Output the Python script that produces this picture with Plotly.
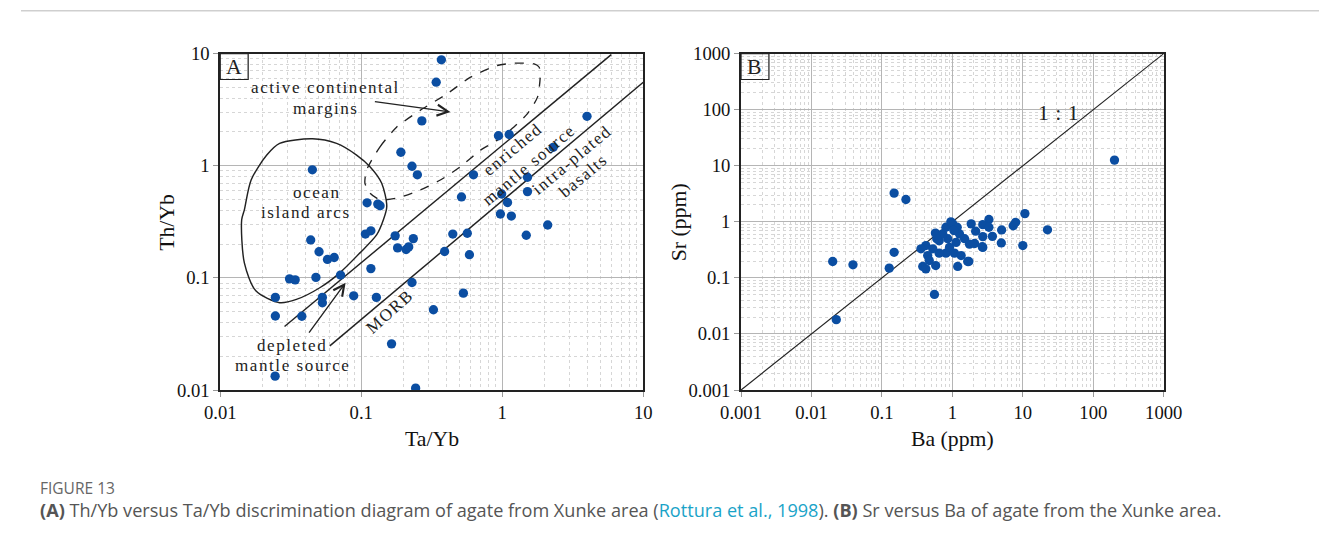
import plotly.graph_objects as go

# ---------------- Panel A data: Th/Yb vs Ta/Yb ----------------
ta_yb = [0.37, 0.34, 0.269, 0.191, 0.229, 0.25, 0.045, 0.625, 0.514, 0.110,
         0.131, 0.136, 0.107, 0.117, 0.174, 0.234, 0.446, 0.565, 0.0438, 3.99,
         0.94, 1.12, 2.30, 1.51, 1.51, 0.99, 1.09, 0.97, 1.16, 2.1,
         1.48, 0.181, 0.208, 0.217, 0.0502, 0.0576, 0.0643, 0.0713, 0.031, 0.034,
         0.0477, 0.117, 0.0246, 0.0246, 0.053, 0.053, 0.0379, 0.0884, 0.128, 0.229,
         0.39, 0.585, 0.53, 0.325, 0.164, 0.0245, 0.243]
th_yb = [8.8, 5.56, 2.51, 1.32, 0.99, 0.83, 0.92, 0.83, 0.527, 0.467,
         0.455, 0.44, 0.246, 0.263, 0.237, 0.224, 0.246, 0.25, 0.218, 2.76,
         1.85, 1.9, 1.46, 0.79, 0.588, 0.56, 0.47, 0.371, 0.356, 0.296,
         0.24, 0.185, 0.179, 0.189, 0.171, 0.146, 0.152, 0.106, 0.098, 0.096,
         0.101, 0.121, 0.067, 0.0457, 0.067, 0.060, 0.0455, 0.0692, 0.067, 0.091,
         0.172, 0.161, 0.0731, 0.052, 0.0258, 0.0133, 0.0104]

# field boundaries (log10 units)
oia_lx = [-1.346, -1.175, -1.033, -0.938, -0.855, -0.819, -0.843, -0.890, -1.009, -1.152,
          -1.294, -1.460, -1.579, -1.746, -1.829, -1.848, -1.829, -1.781, -1.670, -1.579, -1.346]
oia_ly = [0.240, 0.199, 0.095, -0.009, -0.156, -0.364, -0.482, -0.615, -0.777, -0.955,
          -1.088, -1.192, -1.221, -1.118, -0.866, -0.482, -0.393, -0.127, 0.095, 0.199, 0.240]
acm_lx = [-0.962, -0.867, -0.748, -0.582, -0.391, -0.225, -0.035, 0.083, 0.226, 0.262,
          0.269, 0.250, 0.179, 0.083, -0.035, -0.154, -0.297, -0.439, -0.582, -0.748,
          -0.867, -0.938, -0.974, -0.962]
acm_ly = [-0.038, 0.169, 0.346, 0.494, 0.642, 0.790, 0.894, 0.914, 0.909, 0.878,
          0.790, 0.612, 0.465, 0.346, 0.228, 0.139, -0.009, -0.127, -0.216, -0.289,
          -0.304, -0.245, -0.156, -0.038]
upper_lx = [-1.544, 0.773]
upper_ly = [-1.434, 0.991]
lower_lx = [-1.223, 1.0]
lower_ly = [-1.606, 0.745]

# ---------------- Panel B data: Sr vs Ba ----------------
ba = [0.020, 0.0388, 0.0225, 0.127, 0.149, 0.149, 0.219, 200, 10.7, 22.4,
      10.0, 0.556, 7.3, 7.9, 5.0, 4.95, 3.3, 2.7, 3.3, 1.85,
      2.14, 3.7, 2.7, 2.7, 2.07, 1.65, 1.19, 0.38, 0.42, 0.58,
      1.01, 1.17, 0.81, 0.574, 0.65, 0.86, 1.26, 1.49, 1.75, 2.66,
      0.42, 0.358, 0.446, 0.81, 1.07, 1.33, 1.71, 0.65, 0.91, 0.526,
      0.47, 0.73, 1.13, 0.95, 1.05, 0.6]
sr = [0.196, 0.171, 0.018, 0.149, 0.286, 3.25, 2.5, 12.6, 1.4, 0.72,
      0.377, 0.0507, 0.85, 0.98, 0.716, 0.42, 1.1, 0.89, 0.80, 0.92,
      0.68, 0.55, 0.545, 0.35, 0.41, 0.196, 0.16, 0.16, 0.145, 0.166,
      0.92, 0.80, 0.80, 0.63, 0.46, 0.50, 0.61, 0.50, 0.40, 0.36,
      0.377, 0.33, 0.25, 0.276, 0.276, 0.25, 0.196, 0.276, 0.35, 0.33,
      0.204, 0.61, 0.43, 1.0, 0.70, 0.5]
one_to_one = [0.001, 1000]

tick_a = [0.01, 0.1, 1, 10]
tick_a_lbl = ["0.01", "0.1", "1", "10"]
tick_b = [0.001, 0.01, 0.1, 1, 10, 100, 1000]
tick_b_lbl = ["0.001", "0.01", "0.1", "1", "10", "100", "1000"]

# observed page-to-photo mapping: photo = S * figure_px + B
S = 0.9656
BX, BY = 22.7, 9.2
K = 1 / S
W, H = 1343, 540
def PX(p):
    return ((p - BX) / S) / W
def PY(p):
    return 1 - ((p - BY) / S) / H

DOT = "#0b4ea2"
SERIF = "Liberation Serif"

def minor_vals(lo, hi):
    return [m * 10.0 ** k for k in range(lo, hi) for m in range(2, 10)]

fig = go.Figure()
fig.add_trace(go.Scatter(x=[10 ** v for v in oia_lx], y=[10 ** v for v in oia_ly], mode="lines",
                         line=dict(color="#222", width=1.4 * K, shape="spline", smoothing=0.8),
                         xaxis="x", yaxis="y", hoverinfo="skip"))
fig.add_trace(go.Scatter(x=[10 ** v for v in acm_lx], y=[10 ** v for v in acm_ly], mode="lines",
                         line=dict(color="#222", width=1.3 * K, dash="dash", shape="spline", smoothing=0.6),
                         xaxis="x", yaxis="y", hoverinfo="skip"))
for lx, ly in ((upper_lx, upper_ly), (lower_lx, lower_ly)):
    fig.add_trace(go.Scatter(x=[10 ** v for v in lx], y=[10 ** v for v in ly], mode="lines",
                             line=dict(color="#222", width=1.4 * K), xaxis="x", yaxis="y"))
fig.add_trace(go.Scatter(x=ta_yb, y=th_yb, mode="markers",
                         marker=dict(color=DOT, size=9 * K), xaxis="x", yaxis="y"))
fig.add_trace(go.Scatter(x=one_to_one, y=one_to_one, mode="lines",
                         line=dict(color="#222", width=1.1 * K), xaxis="x2", yaxis="y2"))
fig.add_trace(go.Scatter(x=ba, y=sr, mode="markers",
                         marker=dict(color=DOT, size=9 * K), xaxis="x2", yaxis="y2"))

ydom = [PY(391), PY(53)]
common = dict(type="log", showline=True, linecolor="#222", linewidth=1.5 * K, mirror=True,
              showgrid=True, gridcolor="#b5b5b5", gridwidth=1,
              ticks="outside", ticklen=5 * K, tickcolor="#999",
              tickfont=dict(family=SERIF, size=18 * K, color="#111"), zeroline=False)
def minor(lo, hi):
    return dict(tickvals=minor_vals(lo, hi), showgrid=True, gridcolor="#d6d6d6",
                griddash="dot", ticks="")
fig.update_layout(
    width=W, height=H, margin=dict(l=0, r=0, t=0, b=0),
    paper_bgcolor="white", plot_bgcolor="white", showlegend=False,
    xaxis=dict(domain=[PX(221), PX(642)], range=[-2, 1], tickvals=tick_a, ticktext=tick_a_lbl,
               minor=minor(-2, 1), anchor="y", **common),
    yaxis=dict(domain=ydom, range=[-2, 1], tickvals=tick_a, ticktext=tick_a_lbl,
               minor=minor(-2, 1), anchor="x", **common),
    xaxis2=dict(domain=[PX(739.3), PX(1160)], range=[-3, 3], tickvals=tick_b, ticktext=tick_b_lbl,
                minor=minor(-3, 3), anchor="y2", **common),
    yaxis2=dict(domain=ydom, range=[-3, 3], tickvals=tick_b, ticktext=tick_b_lbl,
                minor=minor(-3, 3), anchor="x2", **common),
)

ann = []
def txt(t, lx, ly, size=16.5, angle=0, ref=("x", "y"), spacing=1.5):
    ann.append(dict(text="<span style='letter-spacing:%.2fpx'>%s</span>" % (spacing * K, t),
                    x=lx, y=ly, xref=ref[0], yref=ref[1], showarrow=False,
                    xanchor="center", yanchor="middle",
                    textangle=angle, font=dict(family=SERIF, size=size * K, color="#222")))

txt("active continental", -1.252, 0.698)
txt("margins", -1.252, 0.512)
txt("ocean", -1.316, -0.242)
txt("island arcs", -1.394, -0.420)
txt("depleted", -1.494, -1.600)
txt("mantle source", -1.487, -1.777)
txt("MORB", -0.795, -1.304, angle=-42)
txt("enriched", 0.072, 0.146, angle=-40)
txt("mantle source", 0.183, 0.006, angle=-40)
txt("intra-plated", 0.488, 0.051, angle=-40)
txt("basalts", 0.578, -0.091, angle=-40)
txt("1 : 1", 1.50, 1.945, size=21, ref=("x2", "y2"), spacing=0.5)

for (hx, hy, tx, ty) in ((-0.368, 0.479, -0.914, 0.574), (-1.111, -1.043, -1.378, -1.502)):
    ann.append(dict(text="", x=hx, y=hy, ax=tx, ay=ty, xref="x", yref="y", axref="x", ayref="y",
                    showarrow=True, arrowhead=5, arrowsize=1.6, arrowwidth=1.3 * K, arrowcolor="#222"))

# panel letters
for letter, xr, yr in (("A", "x domain", "y domain"), ("B", "x2 domain", "y2 domain")):
    fig.add_shape(type="rect", xref=xr, yref=yr, x0=0, x1=0.066, y0=1 - 0.077, y1=1,
                  line=dict(color="#222", width=1.2 * K))
    ann.append(dict(text=letter, x=0.033, y=1 - 0.0385, xref=xr, yref=yr, showarrow=False,
                    xanchor="center", yanchor="middle",
                    font=dict(family=SERIF, size=21 * K, color="#222")))

# axis titles
for t, px, py, ang in (("Th/Yb", 168, 222, -90), ("Ta/Yb", 432, 440, 0),
                       ("Sr (ppm)", 677, 222, -90), ("Ba (ppm)", 950, 440, 0)):
    ann.append(dict(text=t, x=PX(px), y=PY(py), xref="paper", yref="paper", showarrow=False,
                    xanchor="center", yanchor="middle", textangle=ang,
                    font=dict(family=SERIF, size=21 * K, color="#111")))

# caption
ann.append(dict(text="FIGURE 13", x=PX(40), y=PY(489), xref="paper", yref="paper",
                xanchor="left", yanchor="middle", showarrow=False,
                font=dict(family="Open Sans", size=15 * K, color="#666")))
ann.append(dict(text="<b>(A)</b> Th/Yb versus Ta/Yb discrimination diagram of agate from Xunke area "
                     "(<span style='color:#1aa3c8'>Rottura et al., 1998</span>). "
                     "<b>(B)</b> Sr versus Ba of agate from the Xunke area.",
                x=PX(40), y=PY(512), xref="paper", yref="paper", xanchor="left", yanchor="middle",
                showarrow=False, font=dict(family="Open Sans", size=17.5 * K, color="#555")))
fig.update_layout(annotations=ann)

# outer frame: top edge of the figure box
fig.add_shape(type="line", xref="paper", yref="paper", x0=0, x1=1, y0=PY(10), y1=PY(10),
              line=dict(color="#cfcfcf", width=1.5))

fig.write_html("out.html")
